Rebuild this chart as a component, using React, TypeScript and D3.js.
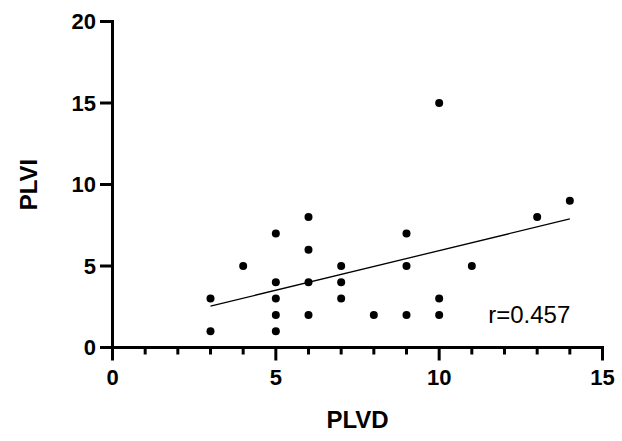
import React from "react";
import * as d3 from "d3";

const plvd = [3, 3, 4, 5, 5, 5, 5, 5, 6, 6, 6, 6, 7, 7, 7, 8, 9, 9, 9, 10, 10, 10, 11, 13, 14];
const plvi = [3, 1, 5, 7, 4, 3, 2, 1, 8, 6, 4, 2, 5, 4, 3, 2, 7, 5, 2, 15, 3, 2, 5, 8, 9];
const xTicks = [0, 5, 10, 15];
const xMinorTicks = d3.range(0, 16);
const yTicks = [0, 5, 10, 15, 20];
const xLabel = "PLVD";
const yLabel = "PLVI";
const rText = "r=0.457";

const W = 622;
const H = 441;
const FONT = "Arial, 'Liberation Sans', Helvetica, sans-serif";

export default function App() {
  const x = d3.scaleLinear().domain([0, 15]).range([112.5, 602.5]);
  const y = d3.scaleLinear().domain([0, 20]).range([347.5, 21.5]);

  const n = plvd.length;
  const mx = d3.mean(plvd) as number;
  const my = d3.mean(plvi) as number;
  let sxy = 0, sxx = 0;
  for (let i = 0; i < n; i++) {
    sxy += (plvd[i] - mx) * (plvi[i] - my);
    sxx += (plvd[i] - mx) ** 2;
  }
  const slope = sxy / sxx;
  const intercept = my - slope * mx;
  const x0 = d3.min(plvd) as number;
  const x1 = d3.max(plvd) as number;
  const line = d3.line<number>().x((d) => x(d)).y((d) => y(intercept + slope * d));

  return (
    <svg width={W} height={H} style={{ position: "absolute", left: 0, top: 0, background: "#fff" }}>
      <rect width={W} height={H} fill="#fff" />
      {/* axes */}
      <line x1={x(0)} x2={x(15)} y1={y(0)} y2={y(0)} stroke="#000" strokeWidth={3} strokeLinecap="square" />
      <line x1={x(0)} x2={x(0)} y1={y(0)} y2={y(20)} stroke="#000" strokeWidth={3} strokeLinecap="square" />
      {xMinorTicks.map((t) => (
        <line key={"m" + t} x1={x(t)} x2={x(t)} y1={y(0)} y2={y(0) + (t % 5 === 0 ? 13 : 7)} stroke="#000" strokeWidth={3} />
      ))}
      {xTicks.map((t) => (
        <text key={"xt" + t} x={x(t)} y={385} textAnchor="middle" fontFamily={FONT} fontWeight="bold" fontSize={22} fill="#000">
          {t}
        </text>
      ))}
      {yTicks.map((t) => (
        <g key={"yt" + t}>
          <line x1={x(0) - 12.5} x2={x(0)} y1={y(t)} y2={y(t)} stroke="#000" strokeWidth={3} />
          <text x={96} y={y(t)} dy="0.36em" textAnchor="end" fontFamily={FONT} fontWeight="bold" fontSize={22} fill="#000">
            {t}
          </text>
        </g>
      ))}
      {/* axis titles */}
      <text x={(x(0) + x(15)) / 2} y={428} textAnchor="middle" fontFamily={FONT} fontWeight="bold" fontSize={24} fill="#000">
        {xLabel}
      </text>
      <text transform={`translate(37, ${(y(0) + y(20)) / 2}) rotate(-90)`} textAnchor="middle" fontFamily={FONT} fontWeight="bold" fontSize={24} fill="#000">
        {yLabel}
      </text>
      {/* regression line */}
      <path d={line([x0, x1]) as string} fill="none" stroke="#000" strokeWidth={1.3} />
      {/* points */}
      {plvd.map((d, i) => (
        <circle key={i} cx={x(d)} cy={y(plvi[i])} r={4} fill="#000" />
      ))}
      <text x={x(11.5)} y={y(1.5)} fontFamily={FONT} fontSize={24} fill="#000">
        {rText}
      </text>
    </svg>
  );
}
